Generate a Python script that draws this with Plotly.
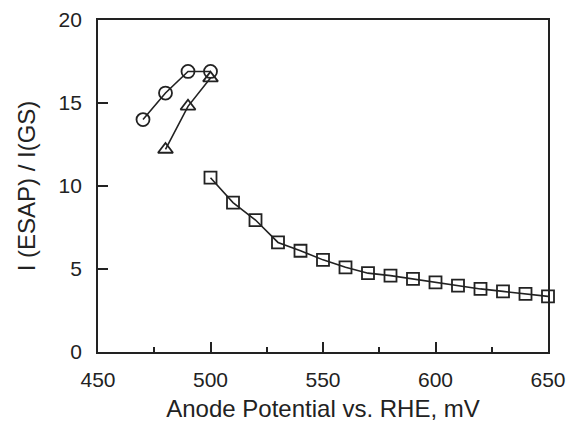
import plotly.graph_objects as go

# anode potential (mV) and ratio I(ESAP)/I(GS)
circ_x = [470, 480, 490, 500]
circ_y = [14.0, 15.6, 16.9, 16.9]

tri_x = [480, 490, 500]
tri_y = [12.2, 14.8, 16.5]

sq_x = [500, 510, 520, 530, 540, 550, 560, 570, 580, 590, 600, 610, 620, 630, 640, 650]
sq_y = [10.5, 9.0, 7.95, 6.6, 6.1, 5.55, 5.1, 4.75, 4.6, 4.4, 4.2, 4.0, 3.8, 3.65, 3.5, 3.35]

x_ticks = [450, 500, 550, 600, 650]
y_ticks = [0, 5, 10, 15, 20]

ink = "#222"

fig = go.Figure()
for xs, ys, sym, sz in [(circ_x, circ_y, "circle-open", 13),
                        (tri_x, tri_y, "triangle-up-open", 13),
                        (sq_x, sq_y, "square-open", 12)]:
    fig.add_trace(go.Scatter(
        x=xs, y=ys, mode="lines+markers",
        line=dict(color=ink, width=1.6),
        marker=dict(symbol=sym, size=sz, color=ink, line=dict(width=1.8, color=ink)),
        cliponaxis=False, showlegend=False))

fig.update_layout(
    width=568, height=424,
    margin=dict(l=98, r=20, t=20, b=72),
    paper_bgcolor="white", plot_bgcolor="white",
    font=dict(family="Liberation Sans, Arial", size=21, color=ink),
)
fig.update_xaxes(
    range=[450, 650], tickvals=x_ticks, ticks="inside", ticklen=10,
    tickcolor=ink, tickwidth=1.5, showline=True, linecolor=ink, linewidth=1.8, mirror=True,
    showgrid=False, zeroline=False, ticklabelstandoff=8, automargin=False,
    minor=dict(dtick=25, tick0=450, ticks="inside", ticklen=5, tickcolor=ink, tickwidth=1.5),
    title=dict(text="Anode Potential vs. RHE, mV", font=dict(size=24), standoff=10),
)
fig.update_yaxes(
    range=[0, 20], tickvals=y_ticks, ticks="inside", ticklen=10,
    tickcolor=ink, tickwidth=1.5, showline=True, linecolor=ink, linewidth=1.8, mirror=True,
    showgrid=False, zeroline=False, ticklabelstandoff=10, automargin=False,
    title=dict(text="I (ESAP) / I(GS)", font=dict(size=24), standoff=16),
)

fig.write_html("out.html", config={"displayModeBar": False},
               post_script="document.body.style.margin='0';")
